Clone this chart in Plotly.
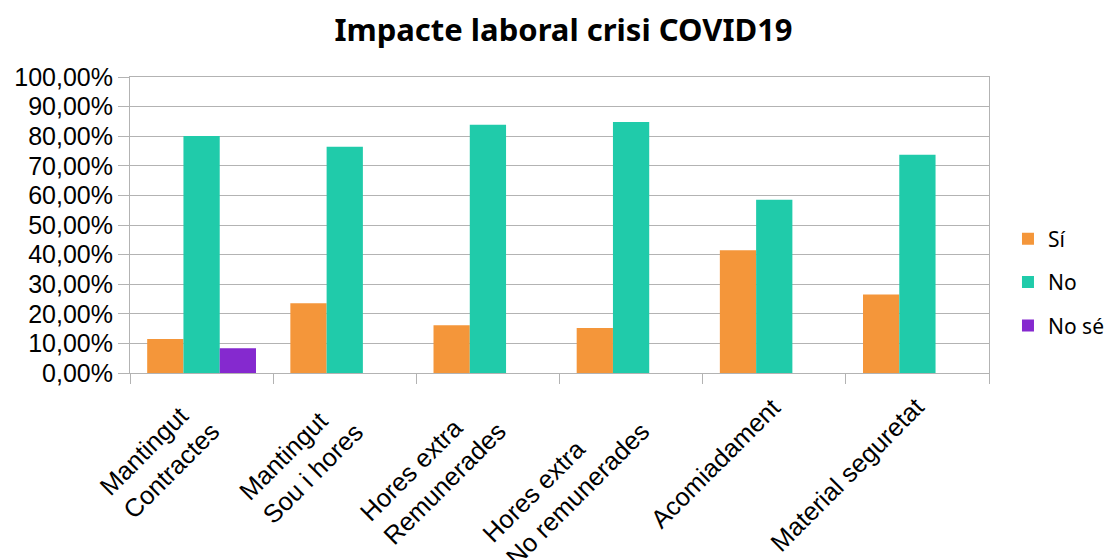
import plotly.graph_objects as go

categories = ["Mantingut<br>Contractes", "Mantingut<br>Sou i hores", "Hores extra<br>Remunerades",
              "Hores extra<br>No remunerades", "Acomiadament", "Material seguretat"]
si_values = [0.115, 0.236, 0.161, 0.152, 0.415, 0.265]
no_values = [0.801, 0.764, 0.839, 0.848, 0.585, 0.737]
nose_values = [0.084, None, None, None, None, None]

series = [("Sí", si_values, "#F4963A"), ("No", no_values, "#20CBAA"), ("No sé", nose_values, "#8529CF")]

fig = go.Figure()
for i, (name, vals, col) in enumerate(series):
    fig.add_trace(go.Bar(x=categories, y=vals, name=name, marker_color=col,
                         marker_line_width=0, legendgroup=str(i)))

grid = "#b3b3b3"
W, H = 1105, 552
fig.update_layout(
    width=W, height=H,
    margin=dict(l=122, r=W - 981, t=69, b=H - 365, autoexpand=False),
    paper_bgcolor="white", plot_bgcolor="white",
    separators=",.",
    barmode="group", bargap=0.24, bargroupgap=0,
    title=dict(text="<b>Impacte laboral crisi COVID19</b>", x=555.5 / W, xanchor="center",
               y=1 - 21.8 / H, yanchor="middle",
               font=dict(family="Noto Sans", size=31, color="#000000")),
    legend=dict(x=1.0221, xanchor="left", y=0.307, yanchor="middle",
                font=dict(family="Noto Sans", size=21, color="#000000"),
                traceorder="grouped", tracegroupgap=13, itemwidth=30),
    showlegend=True,
)
fig.update_yaxes(range=[0, 1], dtick=0.1, tickformat=".2%",
                 showgrid=True, gridcolor=grid, gridwidth=1,
                 showline=True, linecolor=grid, linewidth=1, mirror=True,
                 ticks="outside", ticklen=11, tickcolor=grid,
                 tickfont=dict(family="Liberation Sans", size=25, color="#000000"),
                 zeroline=False)
fig.update_xaxes(range=[-0.5, len(categories) - 0.5], autorange=False,
                 showline=True, linecolor=grid, linewidth=1, mirror=True,
                 ticks="outside", ticklen=10, tickcolor=grid, tickson="boundaries",
                 showticklabels=False)

for cat in categories:
    two = "<br>" in cat
    fig.add_annotation(x=cat, y=0, xref="x", yref="y", text=cat, showarrow=False,
                       textangle=-45, align="left", xanchor="right", yanchor="top",
                       xshift=26 if two else 14, yshift=-18 if two else -17,
                       font=dict(family="Liberation Sans", size=25.5, color="#000000"))

fig.write_html("out.html")
